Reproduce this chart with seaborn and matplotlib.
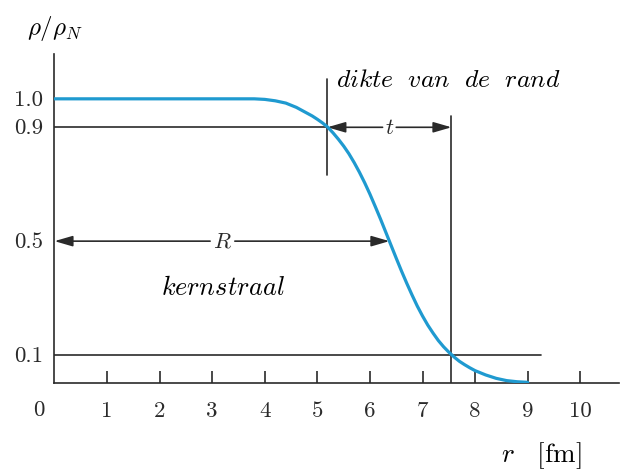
import matplotlib
matplotlib.use("Agg")
import matplotlib.pyplot as plt
import seaborn as sns
import pandas as pd

# Nuclear charge density profile (Fermi-like shape), values in units of rho_N
r_fm = [0.0, 3.8, 4.0, 4.2, 4.4, 4.6, 4.8, 4.9, 5.0, 5.1, 5.2, 5.3, 5.4, 5.5,
        5.6, 5.7, 5.8, 5.9, 6.0, 6.1, 6.2, 6.3, 6.4, 6.5, 6.6, 6.7, 6.8, 6.9,
        7.0, 7.1, 7.2, 7.3, 7.4, 7.5, 7.6, 7.7, 7.8, 7.9, 8.0, 8.2, 8.4, 8.6,
        8.8, 9.0]
rho = [1.000, 1.000, 0.998, 0.993, 0.985, 0.970, 0.950, 0.940, 0.928, 0.915,
       0.900, 0.880, 0.858, 0.834, 0.807, 0.776, 0.742, 0.705, 0.665, 0.622,
       0.578, 0.532, 0.486, 0.440, 0.395, 0.352, 0.311, 0.272, 0.237, 0.205,
       0.177, 0.151, 0.129, 0.110, 0.093, 0.078, 0.066, 0.055, 0.045, 0.030,
       0.018, 0.010, 0.006, 0.004]

x_ticks = [1, 2, 3, 4, 5, 6, 7, 8, 9, 10]
x_tick_labels = ["1", "2", "3", "4", "5", "6", "7", "8", "9", "10"]
y_ticks = [0.1, 0.5, 0.9, 1.0]
y_tick_labels = ["0.1", "0.5", "0.9", "1.0"]

# Characteristic radii read along the profile
r_90 = 5.19    # where rho = 0.9
r_50 = 6.37    # half-density radius R
r_10 = 7.55    # where rho = 0.1

df = pd.DataFrame({"r": r_fm, "rho": rho})

sns.set_theme(style="white")
plt.rcParams["mathtext.fontset"] = "cm"
plt.rcParams["font.family"] = ["cmr10", "DejaVu Serif"]
plt.rcParams["axes.unicode_minus"] = False

ink = "#2a2a2a"
blue = "#1f9ad0"

fig = plt.figure(figsize=(6.22, 4.77), dpi=100)
ax = fig.add_axes([0.0876, 0.194, 0.907, 0.691])

sns.lineplot(data=df, x="r", y="rho", color=blue, linewidth=2.3, ax=ax,
             zorder=5)

ax.set_xlim(0, 10.73)
ax.set_ylim(0, 1.158)

for side in ("top", "right"):
    ax.spines[side].set_visible(False)
for side in ("left", "bottom"):
    ax.spines[side].set_color(ink)
    ax.spines[side].set_linewidth(1.2)

ax.set_xticks(x_ticks)
ax.set_xticklabels(x_tick_labels)
ax.set_yticks(y_ticks)
ax.set_yticklabels(y_tick_labels)
ax.tick_params(axis="x", bottom=True, direction="in", length=9, width=1.2,
               color=ink, pad=12, labelsize=16.5, labelcolor=ink)
ax.tick_params(axis="y", left=False, length=0, pad=8, labelsize=16.5,
               labelcolor=ink)
for lab in ax.get_yticklabels():
    lab.set_verticalalignment("center")
ax.set_xlabel("")
ax.set_ylabel("")

# origin label
ax.text(-0.29, -0.09, "0", fontsize=16.5, color=ink, ha="center",
        va="center", clip_on=False)

line_kw = dict(color=ink, linewidth=1.2, zorder=3)

# reference lines at 0.9 and 0.1
ax.plot([0, r_90], [0.9, 0.9], **line_kw)
ax.plot([0, 9.25], [0.1, 0.1], **line_kw)
ax.plot([r_90, r_90], [0.733, 1.07], **line_kw)
ax.plot([r_10, r_10], [0.0, 0.941], **line_kw)

arrow = dict(arrowstyle="-|>,head_length=0.55,head_width=0.16",
             color=ink, lw=1.2, shrinkA=0, shrinkB=0, mutation_scale=20)

# R arrows (nuclear radius)
ax.annotate("", xy=(0.0, 0.5), xytext=(2.96, 0.5), arrowprops=arrow)
ax.annotate("", xy=(r_50, 0.5), xytext=(3.43, 0.5), arrowprops=arrow)
ax.text(3.19, 0.5, r"$R$", fontsize=16, color=ink, ha="center", va="center")

# t arrows (skin thickness)
ax.annotate("", xy=(r_90, 0.9), xytext=(6.24, 0.9), arrowprops=arrow)
ax.annotate("", xy=(r_10, 0.9), xytext=(6.50, 0.9), arrowprops=arrow)
ax.text(6.37, 0.9, r"$t$", fontsize=16, color=ink, ha="center", va="center")

ax.text(5.35, 1.068, r"$dikte\ \ van\ \ de\ \ rand$", fontsize=18.5,
        color="black", ha="left", va="center")
ax.text(3.2, 0.339, r"$kernstraal$", fontsize=19, color="black",
        ha="center", va="center")

fig.text(0.043, 0.94, r"$\rho/\rho_N$", fontsize=18, color="black",
         ha="left", va="center")
fig.text(0.805, 0.045, r"$r\ \ \ [\mathrm{fm}]$", fontsize=19.5,
         color="black", ha="left", va="center")

fig.savefig("out.png", dpi=100)
